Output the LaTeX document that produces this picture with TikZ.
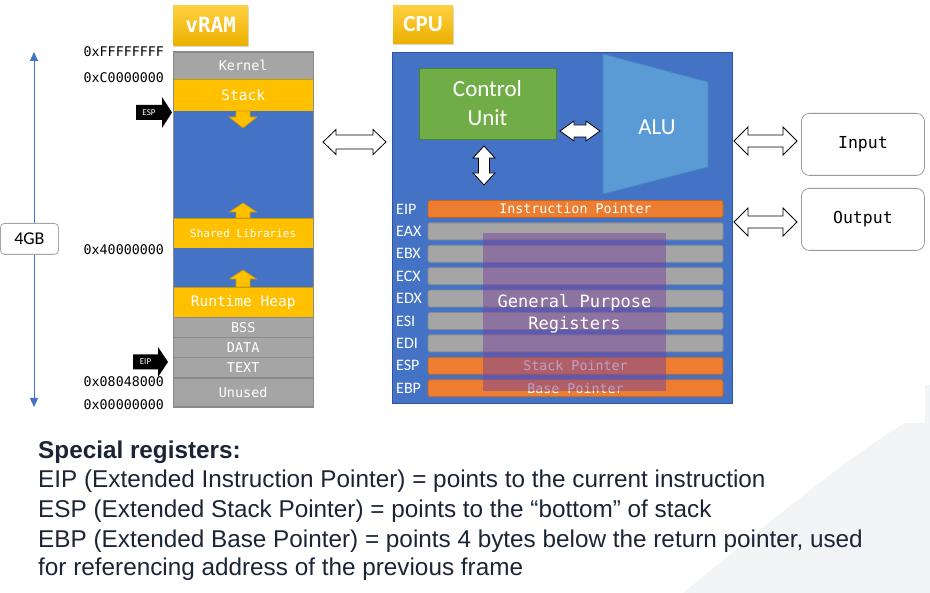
\documentclass[tikz,border=0pt]{standalone}
\usepackage{fontspec}
\setmainfont{Liberation Sans}
\newfontfamily\monof{DejaVu Sans Mono}
\newfontfamily\calf{Carlito}
\usetikzlibrary{shadows,arrows.meta}
\definecolor{blueM}{HTML}{4472C4}
\definecolor{blueD}{HTML}{2F5597}
\definecolor{grayM}{HTML}{A5A5A5}
\definecolor{grayD}{HTML}{8A8A8A}
\definecolor{yelM}{HTML}{FFC000}
\definecolor{yelD}{HTML}{C99A00}
\definecolor{yelL}{HTML}{FFD040}
\definecolor{yelB}{HTML}{EBB000}
\definecolor{oraM}{HTML}{ED7D31}
\definecolor{oraD}{HTML}{C5641F}
\definecolor{greM}{HTML}{70AD47}
\definecolor{greD}{HTML}{507E32}
\definecolor{aluM}{HTML}{5B9BD5}
\definecolor{aluD}{HTML}{4A86C0}
\definecolor{purM}{HTML}{77439B}
\definecolor{txtD}{HTML}{1B2535}
\definecolor{bgC}{HTML}{F3F4F6}
\newcommand\fs[1]{\fontsize{#1}{#1}\selectfont}
% horizontal double block arrow: style, x1, x2, yc, headhalf, shafthalf, headlen
\newcommand\hdarrow[7]{\draw[#1] (#2,#4) -- ({#2+#7},{#4-#5}) -- ({#2+#7},{#4-#6}) -- ({#3-#7},{#4-#6}) -- ({#3-#7},{#4-#5}) -- (#3,#4) -- ({#3-#7},{#4+#5}) -- ({#3-#7},{#4+#6}) -- ({#2+#7},{#4+#6}) -- ({#2+#7},{#4+#5}) -- cycle;}
% vertical double block arrow: style, xc, y1, y2, headhalf, shafthalf, headlen
\newcommand\vdarrow[7]{\draw[#1] (#2,#3) -- ({#2+#5},{#3+#7}) -- ({#2+#6},{#3+#7}) -- ({#2+#6},{#4-#7}) -- ({#2+#5},{#4-#7}) -- (#2,#4) -- ({#2-#5},{#4-#7}) -- ({#2-#6},{#4-#7}) -- ({#2-#6},{#3+#7}) -- ({#2-#5},{#3+#7}) -- cycle;}
% vertical single block arrow: style, xc, ytip, ybase, headhalf, shafthalf, yheadbase
\newcommand\sarrow[7]{\draw[#1] (#2,#3) -- ({#2+#5},#7) -- ({#2+#6},#7) -- ({#2+#6},#4) -- ({#2-#6},#4) -- ({#2-#6},#7) -- ({#2-#5},#7) -- cycle;}
% horizontal tag arrow: x1, xtip, yc, headhalf, bodyhalf, xhead
\newcommand\tagarrow[6]{\fill[black] (#1,{#3-#5}) -- (#6,{#3-#5}) -- (#6,{#3-#4}) -- (#2,#3) -- (#6,{#3+#4}) -- (#6,{#3+#5}) -- (#1,{#3+#5}) -- cycle;}
\tikzset{
  memblk/.style={draw, minimum width=140, minimum height=#1, inner sep=0, anchor=north west, text=white, font=\monof\fs{13.5}},
  titlebox/.style={top color=yelL, bottom color=yelB, draw=none, drop shadow={opacity=0.3, shadow xshift=1pt, shadow yshift=-1.5pt}, text=white, inner sep=0, anchor=north west},
  regbar/.style={rounded corners=2, draw, line width=0.8, minimum width=295, minimum height=17, inner sep=0, text=white, font=\monof\fs{13.3}},
  regname/.style={anchor=west, text=white, font=\calf\fs{16}, inner sep=0},
  addr/.style={anchor=east, font=\monof\fs{13.3}, inner sep=0},
  iobox/.style={draw=gray!80, line width=0.8, rounded corners=8, minimum width=123, minimum height=62, font=\monof\fs{16.5}, anchor=north west, inner sep=0},
  blk/.style={draw=black, fill=white, line width=0.8, line join=miter},
  ylw/.style={draw=yelD, fill=yelM, line width=0.6},
  bot/.style={anchor=base west, inner sep=0, text=txtD, font=\fs{24.3}},
  tagtxt/.style={text=white, font=\calf\fs{9}, inner sep=0}
}
\begin{document}
\begin{tikzpicture}[x=1pt,y=-1pt]
\useasboundingbox (0,0) rectangle (930,593);
% faint background shape
\fill[bgC] (683,593) .. controls (760,530) and (850,455) .. (905,423) -- (925,423) -- (925,385) -- (930,385) -- (930,593) -- cycle;

% ---------- vRAM ----------
\node[titlebox, minimum width=75, minimum height=40, font=\monof\bfseries\fs{21}] (vram) at (173,5) {vRAM};
\node[memblk=27, fill=grayM, draw=grayD] (kernel) at (173,52) {Kernel};
\node[memblk=32, fill=yelM, draw=yelD, font=\monof\fs{14.5}] (stack) at (173,79) {Stack};
\node[memblk=107, fill=blueM, draw=blueM] (free1) at (173,111) {};
\node[memblk=30, fill=yelM, draw=yelD, font=\monof\fs{11}] (shlib) at (173,218) {Shared Libraries};
\node[memblk=39, fill=blueM, draw=blueM] (free2) at (173,248) {};
\node[memblk=30, fill=yelM, draw=yelD, font=\monof\fs{14.5}] (heap) at (173,287) {Runtime Heap};
\node[memblk=20, fill=grayM, draw=grayD] (bss) at (173,317) {BSS};
\node[memblk=20, fill=grayM, draw=grayD] (data) at (173,337) {DATA};
\node[memblk=20, fill=grayM, draw=grayD] (textseg) at (173,357) {TEXT};
\node[memblk=29, fill=grayM, draw=grayD] (unused) at (173,378) {Unused};
\draw[grayD, line width=1] (173,52) rectangle (313,407);
% growth arrows
\sarrow{ylw}{243}{128}{111}{14}{7}{117}
\sarrow{ylw}{243}{203}{218}{13.5}{7}{212}
\sarrow{ylw}{243}{270}{287}{13.5}{7}{279}

% addresses
\node[addr] (aFF) at (164,52) {0xFFFFFFFF};
\node[addr] (aC0) at (164,78) {0xC0000000};
\node[addr] (a40) at (164,250) {0x40000000};
\node[addr] (a08) at (164,382) {0x08048000};
\node[addr] (a00) at (164,405) {0x00000000};

% ESP / EIP tags
\tagarrow{136}{172}{112.5}{15.5}{7.5}{162}
\node[tagtxt] (esptag) at (149,112.5) {ESP};
\tagarrow{133}{168}{362}{15}{7.5}{158}
\node[tagtxt] (eiptag) at (145.5,362) {EIP};

% 4GB axis
\coordinate (axtop) at (34,52);
\coordinate (axbot) at (34,407);
\draw[blueM, line width=1, {Triangle[width=8,length=9]}-{Triangle[width=8,length=9]}] (axtop) -- (axbot);
\node[draw=gray!70, fill=white, rounded corners=4, minimum width=58, minimum height=31, inner sep=0, anchor=north west, font=\calf\fs{18}, line width=0.8] (fourgb) at (0,223) {4GB};

% vRAM <-> CPU
\hdarrow{blk}{323}{386}{142}{12.5}{7}{13}

% ---------- CPU ----------
\node[titlebox, minimum width=60, minimum height=38, font=\calf\bfseries\fs{23}] (cpulbl) at (393,5) {CPU};
\node[draw=blueD, fill=blueM, line width=1, minimum width=340, minimum height=351, inner sep=0, anchor=north west] (cpu) at (392,52) {};
\node[draw=greD, fill=greM, line width=0.8, minimum width=137, minimum height=71, inner sep=0, align=center, text=white, font=\calf\fontsize{23}{29}\selectfont] (cu) at (487.5,103.5) {Control\\Unit};
\draw[draw=aluD, fill=aluM, line width=0.8] (603,54) -- (708,82) -- (708,167) -- (603,194) -- cycle;
\node[text=white, font=\calf\fs{23}, inner sep=0] (alu) at (657,127) {ALU};
\hdarrow{blk}{560}{600}{131}{10}{6}{14}
\vdarrow{blk}{484}{146}{185}{11}{5.5}{12}

% registers
\foreach \n/\y in {EIP/209,EAX/231.4,EBX/253.8,ECX/276.2,EDX/298.6,ESI/321,EDI/343.4,ESP/365.8,EBP/388.2}{
  \node[regname] (lbl\n) at (396,\y) {\n};
}
\node[regbar, fill=oraM, draw=oraD] (rEIP) at (575.5,209) {\raisebox{-1pt}{Instruction Pointer}};
\foreach \n/\y in {EAX/231.4,EBX/253.8,ECX/276.2,EDX/298.6,ESI/321,EDI/343.4}{
  \node[regbar, fill=grayM, draw=grayD] (r\n) at (575.5,\y) {};
}
\node[regbar, fill=oraM, draw=oraD] (rESP) at (575.5,365.8) {\raisebox{-1pt}{Stack Pointer}};
\node[regbar, fill=oraM, draw=oraD] (rEBP) at (575.5,388.2) {\raisebox{-1pt}{Base Pointer}};
\fill[purM, opacity=0.5] (483,233) rectangle (666,391);
\node[text=white, align=center, font=\monof\fontsize{17}{22}\selectfont, inner sep=0] (gpr) at (574.5,314) {General Purpose\\Registers};

% ---------- I/O ----------
\node[iobox] (inp) at (801,113) {Input};
\node[iobox] (outp) at (801,188) {Output};
\hdarrow{blk}{734}{797}{141}{14}{6}{14}
\hdarrow{blk}{734}{797}{222}{14}{6}{14}

% ---------- bottom text ----------
\node[bot, font=\bfseries\fs{24.3}] (t0) at (38,459) {Special registers:};
\node[bot] (t1) at (38,488) {EIP (Extended Instruction Pointer) = points to the current instruction};
\node[bot] (t2) at (38,518) {ESP (Extended Stack Pointer) = points to the “bottom” of stack};
\node[bot] (t3) at (38,548) {EBP (Extended Base Pointer) = points 4 bytes below the return pointer, used};
\node[bot] (t4) at (38,576) {for referencing address of the previous frame};
\end{tikzpicture}
\end{document}
